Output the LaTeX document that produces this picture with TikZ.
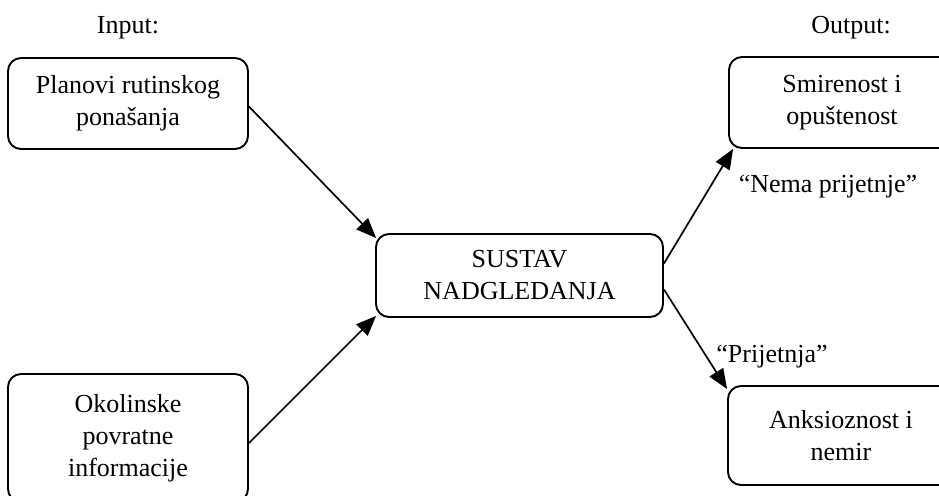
\documentclass[tikz,border=0pt]{standalone}
\usepackage{fontspec}
\setmainfont{Liberation Serif}
\usetikzlibrary{arrows.meta}
\begin{document}
\begin{tikzpicture}[x=1pt,y=-1pt,
  box/.style={draw, line width=1.9pt, rounded corners=13pt, align=center, inner sep=0pt,
    font=\fontsize{26}{32}\selectfont},
  lbl/.style={inner sep=0pt, font=\fontsize{26}{32}\selectfont},
  arr/.style={line width=1.7pt, -{Triangle[length=20pt,width=16pt]}}]
\useasboundingbox (0,0) rectangle (939,495);
\clip (0,0) rectangle (939,495);
\node[lbl] (inp) at (128,28) {Input:};
\node[lbl] (outp) at (851,28) {Output:};
\node[box, minimum width=240pt, minimum height=91pt] (plan) at (128,103.5) {Planovi rutinskog\\ponašanja};
\node[box, minimum width=240pt, minimum height=128pt] (okol) at (128,438) {Okolinske\\povratne\\informacije};
\node[box, minimum width=287pt, minimum height=83pt] (sus) at (519.5,275.5) {SUSTAV\\NADGLEDANJA};
\node[box, minimum width=226pt, minimum height=91pt] (smir) at (842,102.5) {Smirenost i\\opuštenost};
\node[box, minimum width=226pt, minimum height=99pt] (anks) at (841,435.5) {Anksioznost i\\nemir};
\node[lbl] (nema) at (828,187) {“Nema prijetnje”};
\node[lbl] (prij) at (772,357) {“Prijetnja”};
\draw[arr] ([yshift=-3pt]plan.east) -- ([xshift=1pt,yshift=-5pt]sus.north west);
\draw[arr] ([yshift=-5pt]okol.east) -- ([xshift=1pt,yshift=2pt]sus.south west);
\draw[arr] ([yshift=12pt]sus.east) -- ([xshift=5pt]smir.south west);
\draw[arr] ([yshift=-14pt]sus.east) -- ([yshift=-4pt]anks.north west);
\end{tikzpicture}
\end{document}
